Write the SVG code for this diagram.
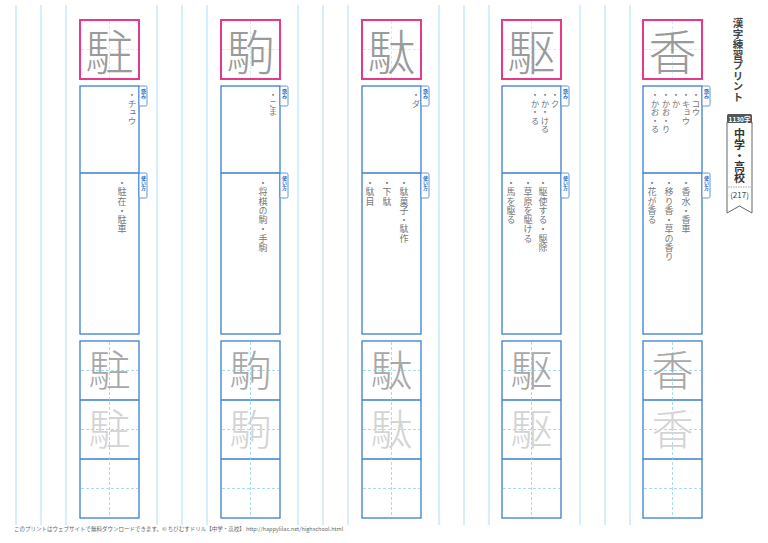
<svg xmlns="http://www.w3.org/2000/svg" width="768" height="543" viewBox="0 0 768 543">
<style>
text{font-family:"Noto Sans CJK JP","Noto Sans",sans-serif}
.gl{stroke:#a8e0f5;stroke-width:1}
.bx{fill:#fff;stroke:#3b7fcc;stroke-width:1.3}
.pk{fill:#fff;stroke:#e8388a;stroke-width:2}
.ds{stroke:#8fd3ee;stroke-width:0.8;stroke-dasharray:3,2}
.big{font-size:48px;fill:#9a9a9a;text-anchor:middle;font-weight:300}
.p1{font-size:42px;fill:#a8a8a8;text-anchor:middle;font-weight:300}
.p2{font-size:42px;fill:#d4d4d4;text-anchor:middle;font-weight:300}
.tab{fill:#fff;stroke:#3b7fcc;stroke-width:0.8}
.tt{font-size:5px;fill:#2a6fc4;font-weight:bold;writing-mode:vertical-rl}
.rd{font-size:8.5px;fill:#777;writing-mode:vertical-rl}
.us{font-size:9px;fill:#777;writing-mode:vertical-rl;letter-spacing:0.3px}
</style>
<rect width="768" height="543" fill="#fff"/>
<g id="guides">
<line class="gl" x1="16" y1="5" x2="16" y2="525"/><line class="gl" x1="41" y1="5" x2="41" y2="525"/><line class="gl" x1="66" y1="5" x2="66" y2="525"/>
<line class="gl" x1="157" y1="5" x2="157" y2="525"/><line class="gl" x1="182" y1="5" x2="182" y2="525"/><line class="gl" x1="207" y1="5" x2="207" y2="525"/>
<line class="gl" x1="298" y1="5" x2="298" y2="525"/><line class="gl" x1="323" y1="5" x2="323" y2="525"/><line class="gl" x1="348" y1="5" x2="348" y2="525"/>
<line class="gl" x1="439" y1="5" x2="439" y2="525"/><line class="gl" x1="464" y1="5" x2="464" y2="525"/><line class="gl" x1="489" y1="5" x2="489" y2="525"/>
<line class="gl" x1="580" y1="5" x2="580" y2="525"/><line class="gl" x1="605" y1="5" x2="605" y2="525"/><line class="gl" x1="630" y1="5" x2="630" y2="525"/>
</g>
<defs>
<g id="frame">
<rect class="pk" x="80" y="20" width="59" height="59"/>
<line class="ds" x1="109.5" y1="21" x2="109.5" y2="78" opacity="0.5"/><line class="ds" x1="81" y1="49.5" x2="138" y2="49.5" opacity="0.5"/>
<rect class="bx" x="80" y="86" width="59" height="248"/>
<line stroke="#3b7fcc" stroke-width="1.3" x1="80" y1="173" x2="139" y2="173"/>
<rect class="tab" x="139" y="86" width="8" height="20" rx="1.5"/>
<text class="tt" x="143.5" y="89">読み</text>
<rect class="tab" x="139" y="173" width="8" height="25" rx="1.5"/>
<text class="tt" x="143.5" y="176">使い方</text>
<rect class="bx" x="80" y="341" width="59" height="177"/>
<line stroke="#3b7fcc" stroke-width="1.3" x1="80" y1="400" x2="139" y2="400"/>
<line stroke="#3b7fcc" stroke-width="1.3" x1="80" y1="459" x2="139" y2="459"/>
<line class="ds" x1="109.5" y1="342" x2="109.5" y2="517"/>
<line class="ds" x1="81" y1="370.5" x2="138" y2="370.5"/><line class="ds" x1="81" y1="429.5" x2="138" y2="429.5"/><line class="ds" x1="81" y1="488.5" x2="138" y2="488.5"/>
</g>
</defs>
<g id="col-chu">
<use href="#frame"/>
<text class="big" x="109.5" y="70">駐</text>
<text class="p1" x="109.5" y="386">駐</text><text class="p2" x="109.5" y="445">駐</text>
<text class="rd" x="132" y="91">・チュウ</text>
<text class="us" x="122" y="178">・駐在・駐車</text>
</g>
<g id="col-koma" transform="translate(141,0)">
<use href="#frame"/>
<text class="big" x="109.5" y="70">駒</text>
<text class="p1" x="109.5" y="386">駒</text><text class="p2" x="109.5" y="445">駒</text>
<text class="rd" x="132" y="91">・こま</text>
<text class="us" x="122" y="178">・将棋の駒・手駒</text>
</g>
<g id="col-da" transform="translate(282,0)">
<use href="#frame"/>
<text class="big" x="109.5" y="70">駄</text>
<text class="p1" x="109.5" y="386">駄</text><text class="p2" x="109.5" y="445">駄</text>
<text class="rd" x="134" y="91">・ダ</text>
<text class="us" x="122" y="178">・駄菓子・駄作</text>
<text class="us" x="105" y="178">・下駄</text>
<text class="us" x="88" y="178">・駄目</text>
</g>
<g id="col-ku" transform="translate(422,0)">
<use href="#frame"/>
<text class="big" x="109.5" y="70">駆</text>
<text class="p1" x="109.5" y="386">駆</text><text class="p2" x="109.5" y="445">駆</text>
<text class="rd" x="133" y="91">・ク</text>
<text class="rd" x="123" y="91">・か・ける</text>
<text class="rd" x="113" y="91">・か・る</text>
<text class="us" x="121" y="178">・駆使する・駆除</text>
<text class="us" x="106" y="178">・草原を駆ける</text>
<text class="us" x="89" y="178">・馬を駆る</text>
</g>
<g id="col-kou" transform="translate(563,0)">
<use href="#frame"/>
<text class="big" x="109.5" y="70">香</text>
<text class="p1" x="109.5" y="386">香</text><text class="p2" x="109.5" y="445">香</text>
<text class="rd" x="133" y="91">・コウ</text>
<text class="rd" x="123" y="91">・キョウ</text>
<text class="rd" x="113" y="91">・か</text>
<text class="rd" x="103" y="91">・かお・り</text>
<text class="rd" x="92" y="91">・かお・る</text>
<text class="us" x="123" y="178">・香水・香車</text>
<text class="us" x="106" y="178">・移り香・草の香り</text>
<text class="us" x="89" y="178">・花が香る</text>
</g>
<g id="header">
<text x="738" y="18" style="writing-mode:vertical-rl;font-size:10.5px;fill:#444;font-weight:bold">漢字練習プリント</text>
<path d="M727,122 V213 L739.5,206 L752,213 V122 Z" fill="#fff" stroke="#666" stroke-width="1"/>
<rect x="727" y="114" width="25" height="9" rx="1.5" fill="#555"/>
<text x="739.5" y="121.5" text-anchor="middle" style="font-size:6.5px;fill:#fff;font-weight:bold">1130字</text>
<text x="739.5" y="128" style="writing-mode:vertical-rl;font-size:11px;fill:#333;font-weight:bold">中学・高校</text>
<line x1="728" y1="187" x2="751" y2="187" stroke="#666" stroke-width="0.6" stroke-dasharray="1.5,1"/>
<text x="739.5" y="198" text-anchor="middle" style="font-size:8px;fill:#444">(217)</text>
</g>
<text x="14" y="531" style="font-size:5.5px;fill:#666">このプリントはウェブサイトで無料ダウンロードできます。© ちびむすドリル【中学・高校】  http://happylilac.net/highschool.html</text>
</svg>
